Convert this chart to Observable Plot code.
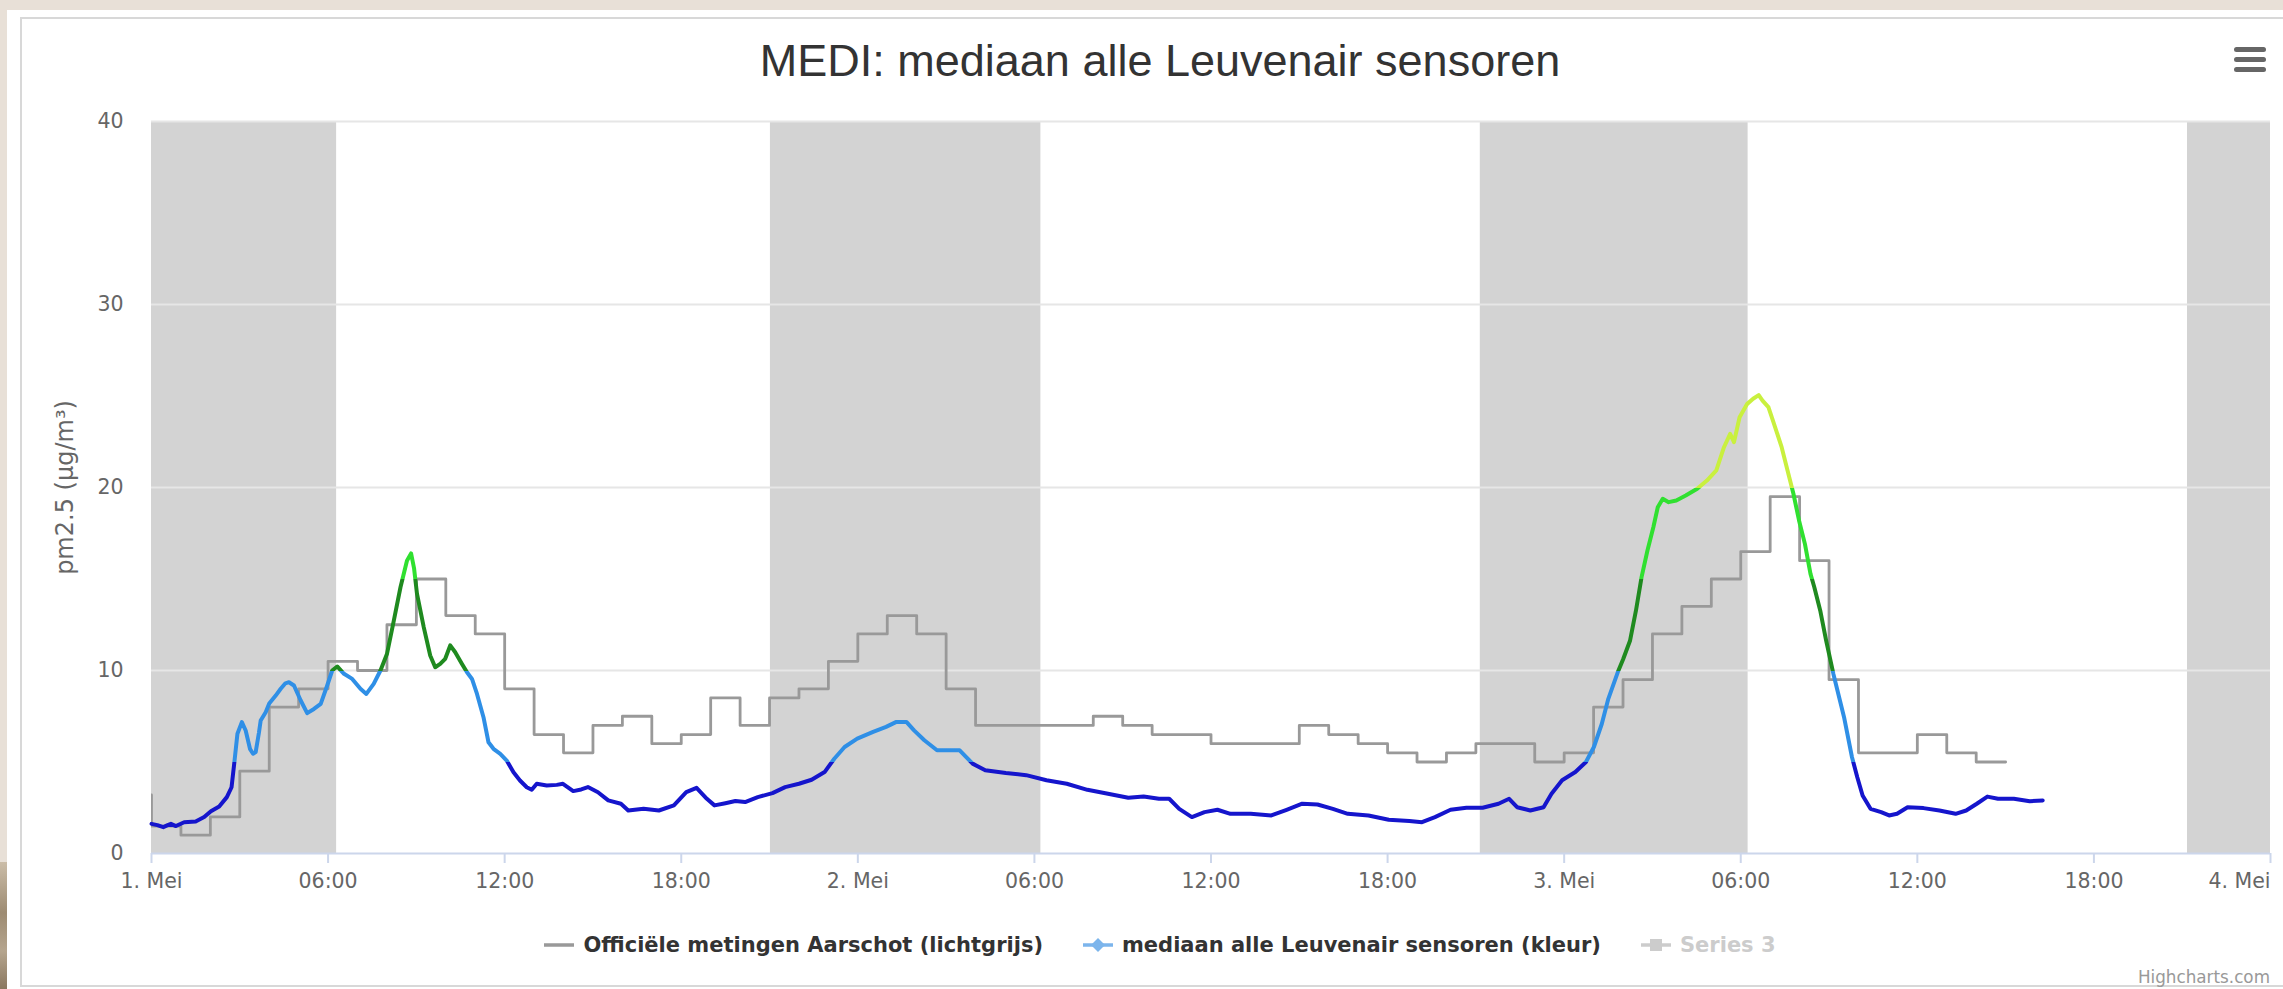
<!DOCTYPE html>
<html>
<head>
<meta charset="utf-8">
<script src="https://cdn.jsdelivr.net/npm/d3@7"></script>
<script src="https://cdn.jsdelivr.net/npm/@observablehq/plot@0.6"></script>
<style>
  html, body { margin: 0; padding: 0; }
  body { width: 2283px; height: 989px; background: #e8e0d7; position: relative; overflow: hidden; font-family: "DejaVu Sans", sans-serif; }
  #brown { position: absolute; left: 0; top: 862px; width: 7px; height: 127px; background: linear-gradient(180deg, #cbbda8 0%, #9d8b72 40%, #b5a58e 70%, #8a775f 100%); }
  #card { position: absolute; left: 7px; top: 10px; width: 2276px; height: 979px; background: #fff; }
  #frame { position: absolute; left: 20px; top: 17px; width: 2320px; height: 970px; border: 2px solid #d8d8d8; border-right: none; box-sizing: border-box; }
  #title { position: absolute; left: 21px; width: 2278px; top: 38px; height: 45px; line-height: 45px; text-align: center; font-family: "Liberation Sans", Arial, sans-serif; font-size: 45px; color: #333; white-space: nowrap; }
  #menu { position: absolute; left: 2234px; top: 47px; width: 32px; }
  #menu div { height: 5px; background: #666; border-radius: 3px; margin-bottom: 5px; }
  #chart { position: absolute; left: 0; top: 100px; }
  #chart svg { overflow: visible; }
  #chart g[aria-label="x-axis"] line, #chart g[aria-label="x-axis"] path, #chart g[aria-label="x-axis tick"] path { stroke: #ccd6eb; stroke-width: 2px; }
  #legend { position: absolute; left: 21px; width: 2278px; top: 931px; height: 28px; display: flex; justify-content: center; align-items: center; gap: 40px; font-family: "DejaVu Sans", sans-serif; font-weight: bold; font-size: 21px; color: #333; white-space: nowrap; }
  #legend .item { display: flex; align-items: center; gap: 9px; }
  #legend .hidden { color: #ccc; }
  #credits { position: absolute; right: 13px; top: 967px; font-family: "DejaVu Sans", sans-serif; font-size: 16.8px; color: #999; white-space: nowrap; }
</style>
</head>
<body>
<div id="brown"></div>
<div id="card"></div>
<div id="frame"></div>
<div id="title"></div>
<div id="menu"><div></div><div></div><div></div></div>
<div id="chart"></div>
<div id="legend"></div>
<div id="credits">Highcharts.com</div>
<script>
// ---- texts ----
const chartTitle = "MEDI: mediaan alle Leuvenair sensoren";
const yAxisTitle = "pm2.5 (μg/m³)";
const seriesNames = ["Officiële metingen Aarschot (lichtgrijs)", "mediaan alle Leuvenair sensoren (kleur)", "Series 3"];

// ---- x axis: hours since 1 May 00:00 ----
const xTickHours = [0, 6, 12, 18, 24, 30, 36, 42, 48, 54, 60, 66, 72];
const xTickLabels = ["1. Mei", "06:00", "12:00", "18:00", "2. Mei", "06:00", "12:00", "18:00", "3. Mei", "06:00", "12:00", "18:00", "4. Mei"];
const yTicks = [0, 10, 20, 30, 40];

// ---- night bands (sunset -> sunrise), hours ----
const nightStart = [0, 21.03, 45.15, 69.18];
const nightEnd = [6.29, 30.22, 54.25, 72];

// ---- official hourly measurements Aarschot (step line) ----
const aarschotHours = [-1, 0, 1, 2, 3, 4, 5, 6, 7, 8, 9, 10, 11, 12, 13, 14, 15, 16, 17, 18, 19, 20,
  21, 22, 23, 24, 25, 26, 27, 28, 29, 30, 31, 32, 33, 34, 35, 36, 37, 38, 39, 40, 41, 42,
  43, 44, 45, 46, 47, 48, 49, 50, 51, 52, 53, 54, 55, 56, 57, 58, 59, 60, 61, 62, 63];
const aarschotValues = [3.2, 1.5, 1, 2, 4.5, 8, 9, 10.5, 10, 12.5, 15, 13, 12, 9, 6.5, 5.5, 7, 7.5, 6, 6.5, 8.5, 7,
  8.5, 9, 10.5, 12, 13, 12, 9, 7, 7, 7, 7, 7.5, 7, 6.5, 6.5, 6, 6, 6, 7, 6.5, 6, 5.5,
  5, 5.5, 6, 6, 5, 5.5, 8, 9.5, 12, 13.5, 15, 16.5, 19.5, 16, 9.5, 5.5, 5.5, 6.5, 5.5, 5, 5];

// ---- median of all Leuvenair sensors ----
const medianHours = [0, 0.2, 0.4, 0.55, 0.66, 0.83, 1.11, 1.5, 1.79, 2.02, 2.3, 2.56, 2.72, 2.81, 2.92, 3.07, 3.2, 3.35, 3.45, 3.54,
  3.65, 3.71, 3.88, 4.0, 4.22, 4.39, 4.55, 4.67, 4.84, 5.07, 5.29, 5.52, 5.75, 5.97, 6.14, 6.31, 6.54, 6.82, 7.1, 7.3,
  7.55, 7.78, 8.0, 8.23, 8.46, 8.68, 8.82, 8.92, 9.02, 9.25, 9.47, 9.64, 9.81, 9.98, 10.15, 10.32, 10.55, 10.72, 10.89, 11.06,
  11.28, 11.45, 11.62, 11.85, 12.07, 12.3, 12.52, 12.75, 12.92, 13.09, 13.43, 13.77, 13.98, 14.33, 14.6, 14.83, 15.17, 15.52, 15.95, 16.2,
  16.72, 17.24, 17.75, 18.17, 18.52, 18.87, 19.13, 19.5, 19.84, 20.17, 20.6, 21.1, 21.53, 22.0, 22.43, 22.87, 23.2, 23.55, 23.98, 24.52,
  24.96, 25.31, 25.65, 25.91, 26.26, 26.69, 27.03, 27.46, 27.9, 28.33, 29.03, 29.72, 30.41, 31.1, 31.8, 32.5, 33.19, 33.71, 34.23, 34.58,
  34.92, 35.35, 35.78, 36.22, 36.66, 37.35, 38.05, 38.57, 39.1, 39.62, 40.14, 40.65, 41.35, 42.04, 42.74, 43.17, 43.61, 44.14, 44.68, 45.23,
  45.77, 46.13, 46.4, 46.85, 47.3, 47.57, 47.93, 48.38, 48.74, 49.01, 49.28, 49.5, 49.82, 50.0, 50.24, 50.44, 50.63, 50.83, 51.03, 51.18,
  51.35, 51.55, 51.81, 52.13, 52.52, 52.85, 53.17, 53.43, 53.64, 53.77, 53.96, 54.22, 54.42, 54.61, 54.74, 54.94, 55.13, 55.39, 55.59, 55.79,
  55.98, 56.18, 56.37, 56.5, 56.7, 56.9, 57.15, 57.51, 57.78, 57.96, 58.14, 58.41, 58.77, 59.04, 59.31, 59.67, 60.21, 60.75, 61.3, 61.66,
  62.02, 62.38, 62.74, 63.28, 63.82, 64.26];
const medianValues = [1.62, 1.55, 1.44, 1.55, 1.62, 1.5, 1.71, 1.75, 1.99, 2.31, 2.57, 3.08, 3.62, 4.9, 6.54, 7.18, 6.72, 5.7, 5.45, 5.54,
  6.6, 7.27, 7.72, 8.2, 8.63, 9.0, 9.3, 9.36, 9.18, 8.36, 7.67, 7.9, 8.18, 9.18, 10.0, 10.22, 9.82, 9.54, 9.0, 8.72,
  9.27, 10.0, 10.9, 12.7, 14.55, 16.0, 16.4, 15.6, 14.2, 12.37, 10.82, 10.18, 10.36, 10.64, 11.37, 11.0, 10.36, 9.9, 9.54, 8.72,
  7.45, 6.08, 5.72, 5.45, 5.08, 4.44, 3.99, 3.62, 3.48, 3.81, 3.72, 3.75, 3.81, 3.41, 3.5, 3.63, 3.35, 2.9, 2.72, 2.35,
  2.44, 2.35, 2.63, 3.35, 3.59, 2.99, 2.63, 2.75, 2.87, 2.81, 3.08, 3.3, 3.63, 3.81, 4.03, 4.45, 5.18, 5.82, 6.28, 6.65,
  6.92, 7.19, 7.19, 6.73, 6.19, 5.64, 5.64, 5.64, 4.91, 4.55, 4.4, 4.28, 4.0, 3.81, 3.48, 3.27, 3.05, 3.12, 2.99, 2.99,
  2.44, 1.99, 2.26, 2.39, 2.17, 2.17, 2.08, 2.39, 2.72, 2.68, 2.44, 2.17, 2.08, 1.84, 1.77, 1.71, 1.99, 2.39, 2.5, 2.5,
  2.72, 2.99, 2.53, 2.35, 2.53, 3.27, 4.0, 4.45, 5.0, 5.82, 7.09, 8.45, 9.9, 10.6, 11.64, 13.28, 15.1, 16.56, 17.83, 18.92,
  19.38, 19.2, 19.29, 19.56, 19.93, 20.38, 20.93, 22.2, 22.93, 22.48, 23.84, 24.57, 24.85, 25.05, 24.75, 24.39, 23.48, 22.2, 20.93, 19.66,
  18.2, 16.92, 15.28, 14.55, 13.28, 11.64, 9.8, 7.45, 5.26, 4.17, 3.17, 2.44, 2.26, 2.08, 2.17, 2.53, 2.48, 2.35, 2.17, 2.35,
  2.72, 3.11, 2.99, 2.99, 2.86, 2.9];

// ---- colour zones of the median line ----
const zoneLimits = [5, 10, 15, 20];
const zoneColors = ["#1515cc", "#2f8fe6", "#1f8a1f", "#30e030", "#c9f03e"];

// ---- build ----
document.getElementById("title").textContent = chartTitle;

const nights = nightStart.map((s, i) => ({start: s, end: nightEnd[i]}));
const aarschot = aarschotHours.map((h, i) => ({h, v: aarschotValues[i]}));
const median = medianHours.map((h, i) => ({h, v: medianValues[i]}));

const plot = Plot.plot({
  width: 2283,
  height: 800,
  marginLeft: 151,
  marginRight: 13,
  marginTop: 21,
  marginBottom: 47,
  style: {background: "transparent", color: "#666", fontFamily: "DejaVu Sans, sans-serif", fontSize: "20.5px", overflow: "visible"},
  x: {type: "linear", domain: [0, 72], ticks: xTickHours, tickFormat: d => xTickLabels[xTickHours.indexOf(d)], tickSize: 10, tickPadding: 10, label: null},
  y: {domain: [0, 40], ticks: yTicks, tickSize: 0, tickPadding: 28, label: null},
  marks: [
    Plot.rect(nights, {x1: "start", x2: "end", fill: "#d3d3d3"}),
    Plot.ruleY(yTicks.filter(d => d > 0), {stroke: "#e6e6e6", strokeWidth: 2}),
    Plot.ruleY([0], {stroke: "#ccd6eb", strokeWidth: 2}),
    Plot.line(aarschot, {x: "h", y: "v", curve: "step-after", stroke: "#999", strokeWidth: 2.8, clip: true}),
    Plot.line(median, {x: "h", y: "v", stroke: "url(#zones)", strokeWidth: 4, strokeLinejoin: "round", strokeLinecap: "round"}),
    Plot.text([yAxisTitle], {text: d => d, frameAnchor: "left", textAnchor: "middle", rotate: -90, dx: -86, fontSize: 24, fill: "#666"})
  ]
});

// gradient that paints the median line by value zones, placed with the y scale
const ys = plot.scale("y");
const [d0, d1] = ys.domain;
const yA = ys.apply(d0), yB = ys.apply(d1);
const ns = "http://www.w3.org/2000/svg";
const defs = document.createElementNS(ns, "defs");
const grad = document.createElementNS(ns, "linearGradient");
grad.setAttribute("id", "zones");
grad.setAttribute("gradientUnits", "userSpaceOnUse");
grad.setAttribute("x1", 0); grad.setAttribute("x2", 0);
grad.setAttribute("y1", yA); grad.setAttribute("y2", yB);
zoneColors.forEach((c, i) => {
  const lo = i === 0 ? d0 : zoneLimits[i - 1];
  const hi = i === zoneLimits.length ? d1 : zoneLimits[i];
  [lo, hi].forEach(v => {
    const s = document.createElementNS(ns, "stop");
    s.setAttribute("offset", (v - d0) / (d1 - d0));
    s.setAttribute("stop-color", c);
    grad.appendChild(s);
  });
});
defs.appendChild(grad);
plot.insertBefore(defs, plot.firstChild);

// last x label justified to the right edge, as in the original
plot.querySelectorAll("text").forEach(t => {
  if (t.textContent === xTickLabels[xTickLabels.length - 1]) t.setAttribute("text-anchor", "end");
});

document.getElementById("chart").appendChild(plot);

// legend
const legendSymbols = [
  '<svg width="30" height="16"><line x1="0" x2="30" y1="8" y2="8" stroke="#999" stroke-width="3.5"/></svg>',
  '<svg width="30" height="16"><line x1="0" x2="30" y1="8" y2="8" stroke="#7cb5ec" stroke-width="3.5"/><path d="M15 1 L22 8 L15 15 L8 8 Z" fill="#7cb5ec"/></svg>',
  '<svg width="30" height="16"><line x1="0" x2="30" y1="8" y2="8" stroke="#ccc" stroke-width="3.5"/><rect x="9" y="2" width="12" height="12" fill="#ccc"/></svg>'
];
const legend = document.getElementById("legend");
seriesNames.forEach((name, i) => {
  const item = document.createElement("span");
  item.className = "item" + (i === 2 ? " hidden" : "");
  item.innerHTML = legendSymbols[i];
  const label = document.createElement("span");
  label.textContent = name;
  item.appendChild(label);
  legend.appendChild(item);
});
</script>
</body>
</html>
